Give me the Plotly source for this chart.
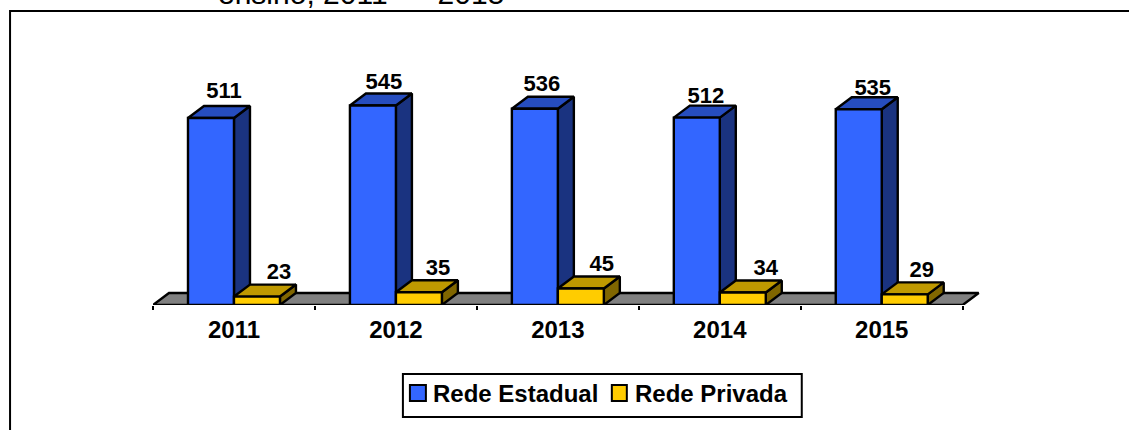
import plotly.graph_objects as go

categories = ["2011", "2012", "2013", "2014", "2015"]
rede_estadual = [511, 545, 536, 512, 535]
rede_privada = [23, 35, 45, 34, 29]
series_names = ["Rede Estadual", "Rede Privada"]

W, H = 1129, 430
L, B, T = 153, 305, 40
CAT_PX = 162
X_MAX = 4.65
R = L + (X_MAX + 0.5) * CAT_PX
PX_PER_UNIT = 0.366
DX = 16 / CAT_PX
DY = 12 / PX_PER_UNIT
BAR = 46 / CAT_PX
STROKE = 2.4
# hand-placed label nudges of the original, in pixels from the bar centre
label_dx_a = [13, 11, 7, 9, 14]
label_dx_b = [22, 19, 21, 23, 17]
label_dy_a = [2, -1, 0, -3, -3]
label_dy_b = [0, 0, 0, 0, 0]

BLUE, BLUE_TOP, BLUE_SIDE = "#3366FF", "#264DBF", "#1A3380"
GOLD, GOLD_TOP, GOLD_SIDE = "#FFCC00", "#BF9900", "#806600"
x_pos = list(range(len(categories)))
px = lambda p: (p - L) / (R - L)
py = lambda p: (B - p) / (B - T)
fig = go.Figure()


def poly(xs, ys, color, z):
    fig.add_trace(go.Scatter(x=xs + xs[:1], y=ys + ys[:1], mode="lines", fill="toself",
                             fillcolor=color, line=dict(color="black", width=STROKE),
                             showlegend=False, hoverinfo="skip", zorder=z))


poly([-0.5, -0.5 + DX, 4.5 + DX, 4.5], [0, DY, DY, 0], "#808080", 0)

for i, (a, b) in enumerate(zip(rede_estadual, rede_privada)):
    for left, v, top, side in ((i - BAR, a, BLUE_TOP, BLUE_SIDE), (i, b, GOLD_TOP, GOLD_SIDE)):
        r = left + BAR
        poly([r, r + DX, r + DX, r], [0, DY, v + DY, v], side, 1)
        poly([left, left + DX, r + DX, r], [v, v + DY, v + DY, v], top, 1)

fig.add_trace(go.Bar(x=[i - BAR / 2 for i in x_pos], y=rede_estadual, width=BAR, name=series_names[0],
                     marker=dict(color=BLUE, line=dict(color="black", width=STROKE)), zorder=2, showlegend=False))
fig.add_trace(go.Bar(x=[i + BAR / 2 for i in x_pos], y=rede_privada, width=BAR, name=series_names[1],
                     marker=dict(color=GOLD, line=dict(color="black", width=STROKE)), zorder=2, showlegend=False))

for vals, off, ndx, ndy in ((rede_estadual, -BAR / 2, label_dx_a, label_dy_a),
                            (rede_privada, BAR / 2, label_dx_b, label_dy_b)):
    fig.add_trace(go.Scatter(x=[i + off + n / CAT_PX for i, n in zip(x_pos, ndx)],
                             y=[v + (12 + d) / PX_PER_UNIT for v, d in zip(vals, ndy)], mode="text",
                             text=[str(v) for v in vals], textposition="top center",
                             textfont=dict(family="Liberation Sans", size=22, color="black", weight="bold"),
                             showlegend=False, hoverinfo="skip", cliponaxis=False, zorder=3))

line = dict(color="black", width=2)
shapes = [
    dict(type="rect", xref="paper", yref="paper", x0=px(10), x1=px(1150), y0=py(450), y1=py(11),
         line=line, layer="below"),
    dict(type="line", xref="x", yref="y", x0=-0.5, x1=4.5, y0=0, y1=0, line=line),
    dict(type="rect", xref="paper", yref="paper", x0=px(403), x1=px(802), y0=py(417), y1=py(374),
         line=line, fillcolor="white"),
    dict(type="rect", xref="paper", yref="paper", x0=px(410), x1=px(426), y0=py(401), y1=py(385),
         line=line, fillcolor=BLUE),
    dict(type="rect", xref="paper", yref="paper", x0=px(612), x1=px(627), y0=py(401), y1=py(385),
         line=line, fillcolor=GOLD),
]
legend_font = dict(size=24, weight="bold", color="black")
annotations = [
    dict(text=series_names[0], xref="paper", yref="paper", x=px(432), y=py(393), xanchor="left",
         yanchor="middle", showarrow=False, font=legend_font, borderpad=0),
    dict(text=series_names[1], xref="paper", yref="paper", x=px(634), y=py(393), xanchor="left",
         yanchor="middle", showarrow=False, font=legend_font, borderpad=0),
    dict(text="ensino, 2011  –  2015", xref="paper", yref="paper", x=px(217), y=py(11), xanchor="left",
         yanchor="bottom", showarrow=False, font=dict(size=30, color="black"), borderpad=0),
]

fig.update_layout(
    width=W, height=H, autosize=False, barmode="overlay", showlegend=False,
    paper_bgcolor="white", plot_bgcolor="rgba(0,0,0,0)",
    margin=dict(l=L, r=W - R, t=T, b=H - B, pad=0),
    font=dict(family="Liberation Sans", color="black"),
    xaxis=dict(range=[-0.5, X_MAX], tickmode="array", tickvals=x_pos, ticktext=categories,
               showgrid=False, zeroline=False, showline=False,
               tickfont=dict(size=24, weight="bold"), ticks="", ticklabelstandoff=8, fixedrange=True,
               minor=dict(tickmode="array", tickvals=[t - 0.5 for t in range(6)], ticks="outside",
                          ticklen=4, tickwidth=2, tickcolor="black", showgrid=False)),
    yaxis=dict(range=[0, (B - T) / PX_PER_UNIT], visible=False, showgrid=False, zeroline=False, fixedrange=True),
    shapes=shapes, annotations=annotations,
)
fig.write_html("out.html", config={"displayModeBar": False},
               post_script="document.body.style.margin='0';document.body.style.overflow='hidden';")
